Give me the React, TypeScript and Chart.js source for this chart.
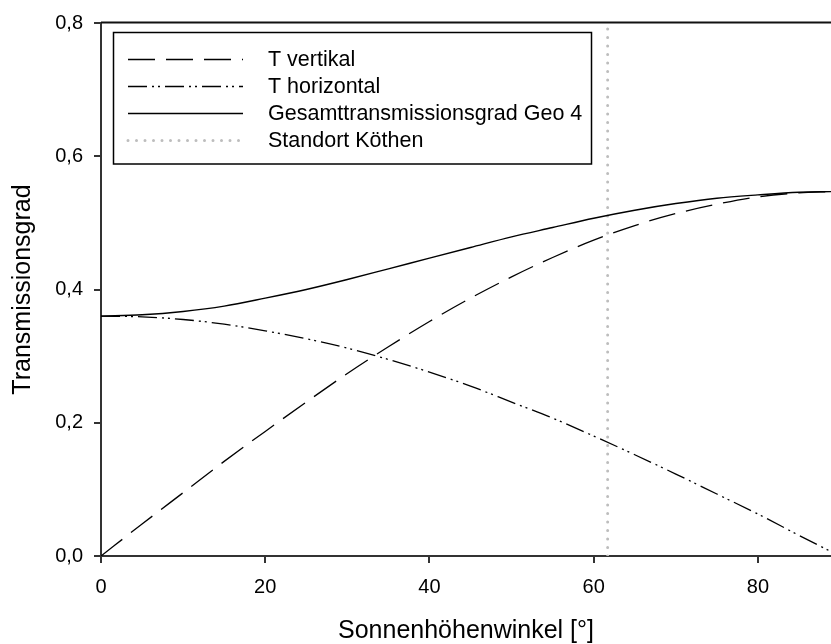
import React, { useEffect, useRef } from 'react';
import { Chart, registerables } from 'chart.js';

Chart.register(...registerables);

// Sun elevation angle [°]
const angles = [0, 5, 10, 15, 20, 25, 30, 35, 40, 45, 50, 55, 60, 65, 70, 75, 80, 85, 89];
const tVertical = [0, 0.048, 0.095, 0.142, 0.187, 0.231, 0.274, 0.314, 0.352, 0.387, 0.419, 0.448, 0.474, 0.496, 0.514, 0.528, 0.539, 0.545, 0.547];
const tHorizontal = [0.36, 0.359, 0.355, 0.348, 0.338, 0.326, 0.312, 0.295, 0.276, 0.255, 0.231, 0.207, 0.18, 0.152, 0.123, 0.093, 0.063, 0.031, 0.006];
const tTotal = [0.36, 0.362, 0.367, 0.375, 0.387, 0.4, 0.415, 0.431, 0.447, 0.463, 0.479, 0.493, 0.507, 0.519, 0.529, 0.537, 0.542, 0.546, 0.547];
const standortAngle = 61.7;
const standortRange = [0, 0.8];

const xTicks = [0, 20, 40, 60, 80];
const yTicks = [0, 0.2, 0.4, 0.6, 0.8];
const xMax = 88.9;

const labels = ['T vertikal', 'T horizontal', 'Gesamttransmissionsgrad Geo 4', 'Standort Köthen'];
const xTitle = 'Sonnenhöhenwinkel [°]';
const yTitle = 'Transmissionsgrad';

const FONT = "'Liberation Sans', Arial, Helvetica, sans-serif";

const toPts = (ys: number[]) => ys.map((y, i) => ({ x: angles[i], y }));

export default function App() {
  const ref = useRef<HTMLCanvasElement | null>(null);

  useEffect(() => {
    document.body.style.margin = '0';
    const canvas = ref.current;
    if (!canvas) return;

    const frameAndLegend = {
      id: 'frameAndLegend',
      afterDraw(chart: any) {
        const ctx = chart.ctx as CanvasRenderingContext2D;
        const a = chart.chartArea;
        ctx.save();
        // top frame line
        ctx.strokeStyle = '#111';
        ctx.lineWidth = 2.2;
        ctx.beginPath();
        ctx.moveTo(a.left, 22.5);
        ctx.lineTo(chart.width, 22.5);
        ctx.stroke();

        // legend box
        const bx = 113.5, by = 32.5, bw = 478, bh = 131.5;
        ctx.fillStyle = '#fff';
        ctx.fillRect(bx, by, bw, bh);
        ctx.strokeStyle = '#000';
        ctx.lineWidth = 1.5;
        ctx.strokeRect(bx, by, bw, bh);

        const rows = [59, 86, 113, 140];
        chart.data.datasets.forEach((ds: any, i: number) => {
          const y = rows[i] + 0.5;
          ctx.save();
          ctx.strokeStyle = ds.borderColor;
          ctx.lineWidth = ds.borderWidth;
          ctx.lineCap = ds.borderCapStyle || 'butt';
          ctx.setLineDash(ds.borderDash || []);
          ctx.beginPath();
          ctx.moveTo(128, y);
          ctx.lineTo(243, y);
          ctx.stroke();
          ctx.restore();
          ctx.fillStyle = '#000';
          ctx.font = `21.5px ${FONT}`;
          ctx.textBaseline = 'middle';
          ctx.textAlign = 'left';
          ctx.fillText(ds.label, 268, rows[i] + 1);
        });
        ctx.restore();
      },
    };

    const fixedTicks = (values: number[]) => (scale: any) => {
      scale.ticks = values.map((v) => ({ value: v }));
    };

    const chart = new Chart(canvas, {
      type: 'line',
      data: {
        datasets: [
          {
            label: labels[0],
            data: toPts(tVertical),
            borderColor: '#000',
            borderWidth: 1.3,
            borderDash: [27, 11],
            pointRadius: 0,
            cubicInterpolationMode: 'monotone',
            fill: false,
          },
          {
            label: labels[1],
            data: toPts(tHorizontal),
            borderColor: '#000',
            borderWidth: 1.3,
            borderDash: [19, 5, 2, 4, 2, 5],
            pointRadius: 0,
            cubicInterpolationMode: 'monotone',
            fill: false,
          },
          {
            label: labels[2],
            data: toPts(tTotal),
            borderColor: '#000',
            borderWidth: 1.4,
            pointRadius: 0,
            cubicInterpolationMode: 'monotone',
            fill: false,
          },
          {
            label: labels[3],
            data: standortRange.map((y) => ({ x: standortAngle, y })),
            borderColor: '#bdbdbd',
            borderWidth: 3,
            borderDash: [0, 8.5],
            borderCapStyle: 'round',
            pointRadius: 0,
            fill: false,
          },
        ],
      } as any,
      options: {
        responsive: false,
        animation: false,
        devicePixelRatio: 1,
        layout: { padding: { top: 22, right: 0, left: 0, bottom: 0 } },
        plugins: {
          legend: { display: false },
          tooltip: { enabled: false },
        },
        scales: {
          x: {
            type: 'linear',
            min: 0,
            max: xMax,
            afterBuildTicks: fixedTicks(xTicks),
            afterFit: (s: any) => { s.height = 88; },
            border: { display: true, color: '#333', width: 2 },
            grid: { drawOnChartArea: false, drawTicks: true, tickLength: 7, color: '#333', lineWidth: 2 },
            ticks: {
              color: '#000',
              font: { family: FONT, size: 20 },
              padding: 12,
              maxRotation: 0,
              callback: (v: any) => String(v),
            },
            title: {
              display: true,
              text: xTitle,
              color: '#000',
              font: { family: FONT, size: 25, lineHeight: 1.0 },
              padding: { top: 0, bottom: 0 },
            },
          },
          y: {
            type: 'linear',
            min: 0,
            max: 0.8,
            afterBuildTicks: fixedTicks(yTicks),
            afterFit: (s: any) => { s.width = 101; },
            border: { display: true, color: '#333', width: 2 },
            grid: { drawOnChartArea: false, drawTicks: true, tickLength: 7, color: '#333', lineWidth: 2 },
            ticks: {
              color: '#000',
              font: { family: FONT, size: 20 },
              padding: 11,
              callback: (v: any) => Number(v).toFixed(1).replace('.', ','),
            },
            title: {
              display: true,
              text: yTitle,
              color: '#000',
              font: { family: FONT, size: 25, lineHeight: 1.2 },
              padding: { top: 8, bottom: 0 },
            },
          },
        },
      } as any,
      plugins: [frameAndLegend],
    });

    return () => chart.destroy();
  }, []);

  return (
    <div style={{ width: 831, height: 644 }}>
      <canvas ref={ref} width={831} height={644} style={{ display: 'block' }} />
    </div>
  );
}
